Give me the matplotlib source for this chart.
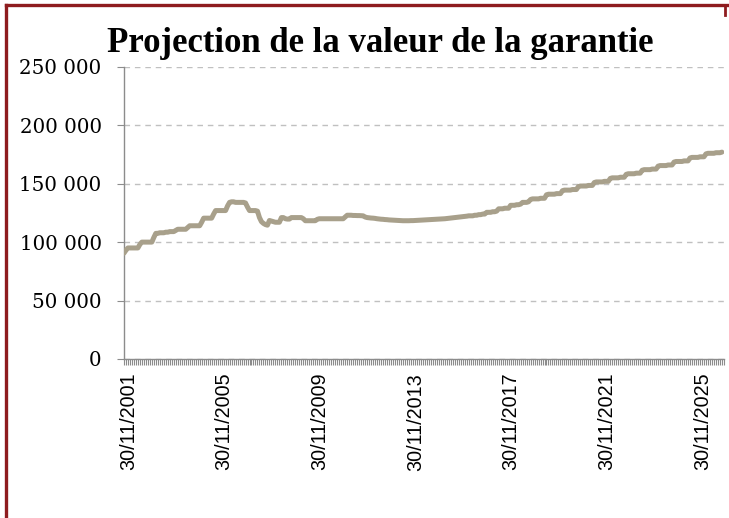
import matplotlib
matplotlib.use("Agg")
import numpy as np
import matplotlib.pyplot as plt
import matplotlib.transforms as mtransforms
from matplotlib.ticker import FuncFormatter, FixedLocator, MultipleLocator
from matplotlib.lines import Line2D

# monthly guarantee value (k€), one row per year starting 30/11/2001
valeur = [
    90.5, 93, 95, 95, 95, 95, 95, 95, 98, 100, 100, 100,
    100, 100, 100, 104, 107.5, 107.5, 108, 108, 108, 108.5, 108.5, 109,
    109, 109, 110, 111, 111, 111, 111, 111, 112.5, 114, 114, 114,
    114, 114, 114, 117, 120.5, 120.5, 120.5, 120.5, 120.5, 124, 127, 127,
    127, 127, 127, 127, 131, 134, 134.5, 134.5, 134, 134, 134, 134,
    134, 133.5, 130, 127, 127, 127, 127, 126.5, 121, 117.5, 116, 115,
    114.5, 118.5, 118, 117.5, 117, 117, 117, 121, 121, 120, 119.7, 119.7,
    121, 121, 121, 121, 121, 121, 120, 118.3, 118.3, 118.3, 118.3, 118.3,
    118.3, 119.5, 120, 120, 120, 120, 120, 120, 120, 120, 120, 120,
    120, 120, 120, 121.5, 123, 123, 123, 122.8, 122.8, 122.7, 122.7, 122.6,
    122.5, 121.5, 121, 120.8, 120.6, 120.5, 120.3, 120, 119.8, 119.6, 119.5, 119.3,
    119.2, 119, 118.9, 118.8, 118.7, 118.6, 118.5, 118.4, 118.3, 118.3, 118.3, 118.3,
    118.4, 118.4, 118.5, 118.6, 118.7, 118.8, 118.9, 119, 119.1, 119.2, 119.3, 119.4,
    119.5, 119.6, 119.7, 119.8, 119.9, 120, 120.2, 120.4, 120.6, 120.8, 121, 121.2,
    121.4, 121.6, 121.8, 122, 122.2, 122.5, 122.5, 122.5, 123, 123, 123.5, 123.5,
    124, 124, 125.5, 125.5, 125.5, 126, 126, 126.5, 128.5, 128.5, 128.5, 129,
    129, 129, 131.5, 131.5, 131.5, 132, 132, 132.5, 134, 134, 134, 134.5,
    136.5, 137, 137, 137, 137, 137.5, 137.5, 137.5, 140.5, 141, 141, 141,
    141, 141.5, 141.5, 141.5, 144, 144.5, 144.5, 144.5, 144.5, 145, 145, 145,
    147.5, 148, 148, 148, 148, 148.5, 148.5, 148.5, 151, 151.5, 151.5, 151.5,
    151.5, 152, 152, 152, 154.5, 155, 155, 155, 155, 155.5, 155.5, 155.5,
    158, 158.5, 158.5, 158.5, 158.5, 159, 159, 159, 161.5, 162, 162, 162,
    162, 162.5, 162.5, 162.5, 165, 165.5, 165.5, 165.5, 165.5, 166, 166, 166,
    168.5, 169, 169, 169, 169, 169.5, 169.5, 169.5, 172, 172.5, 172.5, 172.5,
    172.5, 173, 173, 173, 175.5, 176, 176, 176, 176, 176.5, 176.5, 176.5,
    177,
]
etiquettes = ["30/11/2001", "30/11/2005", "30/11/2009", "30/11/2013",
              "30/11/2017", "30/11/2021", "30/11/2025"]
pas_etiquette = 48  # one label every 4 years (48 months)

LIGNE = "#a8a08b"
GRILLE = "#c0c0c0"
AXE = "#8c8c8c"
CADRE = "#8e1c1f"

y = np.array(valeur) * 1000
x = np.arange(len(y))

fig = plt.figure(figsize=(7.29, 5.18), dpi=100)
ax = fig.add_axes([0.170, 0.307, 0.823, 0.564])

ax.plot(x, y, color=LIGNE, lw=3.6, solid_joinstyle="round",
        solid_capstyle="round", zorder=3)

ax.set_ylim(0, 250000)
ax.set_xlim(0, len(y))
ax.yaxis.set_major_locator(MultipleLocator(50000))
ax.yaxis.set_major_formatter(FuncFormatter(lambda v, p: f"{v:,.0f}".replace(",", " ")))
ax.yaxis.grid(True, color=GRILLE, ls=(0, (4, 3.5)), lw=1.0)
ax.set_axisbelow(True)

ax.xaxis.set_major_locator(FixedLocator(np.arange(len(etiquettes)) * pas_etiquette))
ax.set_xticklabels(etiquettes, rotation=90, fontsize=14.2,
                   family="Liberation Sans")
ax.xaxis.set_minor_locator(MultipleLocator(1))
ax.tick_params(axis="x", which="both", length=4, width=0.8, color=AXE,
               direction="out", pad=6)
ax.tick_params(axis="y", length=5, width=0.8, color=AXE, pad=11)
for lab in ax.get_yticklabels():
    lab.set_family("DejaVu Serif")
    lab.set_fontsize(14.3)

# nudge the date labels a few pixels right
decale = mtransforms.ScaledTranslation(0.045, 0, fig.dpi_scale_trans)
for lab in ax.get_xticklabels():
    lab.set_transform(lab.get_transform() + decale)

for s in ["top", "right"]:
    ax.spines[s].set_visible(False)
for s in ["left", "bottom"]:
    ax.spines[s].set_color(AXE)
    ax.spines[s].set_linewidth(1.0)

fig.text(0.521, 0.8996, "Projection de la valeur de la garantie",
         ha="center", va="baseline", fontsize=25, fontweight="bold",
         family="Liberation Serif")

# dark red frame around the chart block
fig.add_artist(Line2D([0.0089, 0.0089], [0.0, 0.9894], color=CADRE, lw=2.4,
                      transform=fig.transFigure))
fig.add_artist(Line2D([0.0089, 1.0], [0.9894, 0.9894], color=CADRE, lw=2.4,
                      transform=fig.transFigure))
fig.add_artist(Line2D([0.9945, 0.9945], [0.9894, 0.972], color=CADRE, lw=2.0,
                      transform=fig.transFigure))

fig.savefig("out.png", dpi=100)
